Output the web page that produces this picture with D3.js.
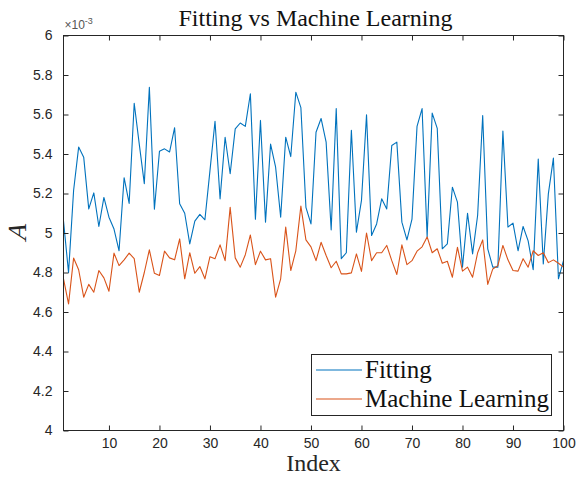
<!DOCTYPE html>
<html><head><meta charset="utf-8">
<script src="https://cdn.jsdelivr.net/npm/d3@7/dist/d3.min.js"></script>
<style>body{margin:0;background:#fff}</style>
</head><body>
<script>
const fitting = [5.06,4.80,5.215,5.435,5.384,5.122,5.203,5.033,5.18,5.08,
5.02,4.91,5.28,5.15,5.657,5.45,5.25,5.738,5.12,5.414,
5.426,5.41,5.533,5.148,5.10,4.945,5.06,5.094,5.067,5.316,
5.566,5.173,5.485,5.30,5.527,5.557,5.54,5.705,5.07,5.57,
5.055,5.45,5.333,5.08,5.485,5.387,5.713,5.635,5.13,5.046,
5.51,5.58,5.46,5.016,5.63,4.87,4.90,5.52,5.004,5.165,
5.598,4.987,5.046,5.173,5.122,5.443,5.46,5.055,4.965,5.07,
5.54,5.63,4.98,5.607,5.53,4.92,4.945,5.232,5.156,4.827,
5.10,4.894,5.09,5.595,4.92,4.827,4.827,5.516,5.03,5.05,
4.91,5.033,4.96,4.814,5.375,4.843,5.198,5.379,4.768,4.86];
const machineLearning = [4.768,4.641,4.873,4.814,4.675,4.74,4.70,4.81,4.773,4.705,
4.898,4.835,4.864,4.898,4.87,4.70,4.80,4.915,4.796,4.785,
4.908,4.874,4.864,4.97,4.768,4.90,4.796,4.83,4.768,4.88,
4.87,4.94,4.86,5.13,4.874,4.827,4.89,4.99,4.84,4.908,
4.864,4.87,4.675,4.768,5.03,4.81,4.91,5.136,4.965,4.93,
4.86,4.953,4.886,4.824,4.857,4.793,4.793,4.798,4.894,4.806,
5.00,4.86,4.90,4.90,4.937,4.86,4.79,4.94,4.84,4.86,
4.908,4.93,4.98,4.90,4.92,4.847,4.857,4.776,4.928,4.807,
4.827,4.776,4.90,4.965,4.74,4.818,4.835,4.937,4.864,4.81,
4.807,4.87,4.827,4.91,4.886,4.90,4.85,4.864,4.847,4.827];
const xTicks = [10,20,30,40,50,60,70,80,90,100];
const yTicks = [4,4.2,4.4,4.6,4.8,5,5.2,5.4,5.6,5.8,6];
const seriesNames = ["Fitting","Machine Learning"];
const seriesColors = ["#0072BD","#D95319"];

const W=577,H=477;
const L=63.5,R=563.5,T=35.5,B=430.5;
const serif="'Liberation Serif','Times New Roman',serif";
const svg=d3.select("body").append("svg").attr("width",W).attr("height",H)
  .style("font-family","'Liberation Sans',Arial,sans-serif");
const x=d3.scaleLinear().domain([1,100]).range([L,R]);
const y=d3.scaleLinear().domain([4,6]).range([B,T]);
const idx=d3.range(1,101);

const line=d3.line().x((d,i)=>x(idx[i])).y(d=>y(d));
[fitting,machineLearning].forEach((s,k)=>{
  svg.append("path").datum(s).attr("d",line).attr("fill","none")
    .attr("stroke",seriesColors[k]).attr("stroke-width",1.1).attr("stroke-linejoin","round");
});

const ax="#262626";
svg.append("rect").attr("x",L).attr("y",T).attr("width",R-L).attr("height",B-T)
  .attr("fill","none").attr("stroke",ax).attr("stroke-width",1);
const xb=d3.axisBottom(x).tickValues(xTicks).tickSizeInner(-5).tickSizeOuter(0).tickPadding(8).tickFormat(d3.format("d"));
const gxb=svg.append("g").attr("transform",`translate(0,${B})`).call(xb);
const xt=d3.axisTop(x).tickValues(xTicks).tickSizeInner(-5).tickSizeOuter(0).tickFormat("");
const gxt=svg.append("g").attr("transform",`translate(0,${T})`).call(xt);
const yl=d3.axisLeft(y).tickValues(yTicks).tickSizeInner(-5).tickSizeOuter(0).tickPadding(11).tickFormat(d=>d3.format("")(+d.toFixed(1)));
const gyl=svg.append("g").attr("transform",`translate(${L},0)`).call(yl);
const yr=d3.axisRight(y).tickValues(yTicks).tickSizeInner(-5).tickSizeOuter(0).tickFormat("");
const gyr=svg.append("g").attr("transform",`translate(${R},0)`).call(yr);
[gxb,gxt,gyl,gyr].forEach(g=>{
  g.select(".domain").remove();
  g.selectAll("line").attr("stroke",ax);
  g.selectAll("text").attr("fill",ax).style("font-size","14px").style("font-family","'Liberation Sans',Arial,sans-serif");
});
gxb.selectAll("text").attr("dy","0.71em");

const ex=svg.append("text").attr("x",L+1).attr("y",T-7).attr("fill","#555")
  .style("font-size","12px");
ex.append("tspan").text("×10");
ex.append("tspan").attr("dy",-5).style("font-size","9px").text("-3");

svg.append("text").attr("x",(L+R)/2+2).attr("y",26).attr("text-anchor","middle")
  .style("font-family",serif).style("font-size","24px").attr("fill","#111")
  .text("Fitting vs Machine Learning");
svg.append("text").attr("x",(L+R)/2).attr("y",471).attr("text-anchor","middle")
  .style("font-family",serif).style("font-size","24px").attr("fill",ax)
  .text("Index");
svg.append("text").attr("transform",`translate(26,${(T+B)/2}) rotate(-90) skewX(-16)`).attr("text-anchor","middle")
  .style("font-family",serif).style("font-size","26px").attr("fill",ax)
  .text("A");

const lg=svg.append("g");
lg.append("rect").attr("x",311.5).attr("y",354.5).attr("width",240).attr("height",61)
  .attr("fill","#fff").attr("stroke",ax).attr("stroke-width",1);
seriesNames.forEach((n,k)=>{
  const yy=370+k*29;
  lg.append("line").attr("x1",316).attr("x2",362).attr("y1",yy).attr("y2",yy)
    .attr("stroke",seriesColors[k]).attr("stroke-width",1.1);
  lg.append("text").attr("x",365).attr("y",yy+8).attr("fill","#111")
    .style("font-family",serif).style("font-size","25px").text(n);
});
</script>
</body></html>
